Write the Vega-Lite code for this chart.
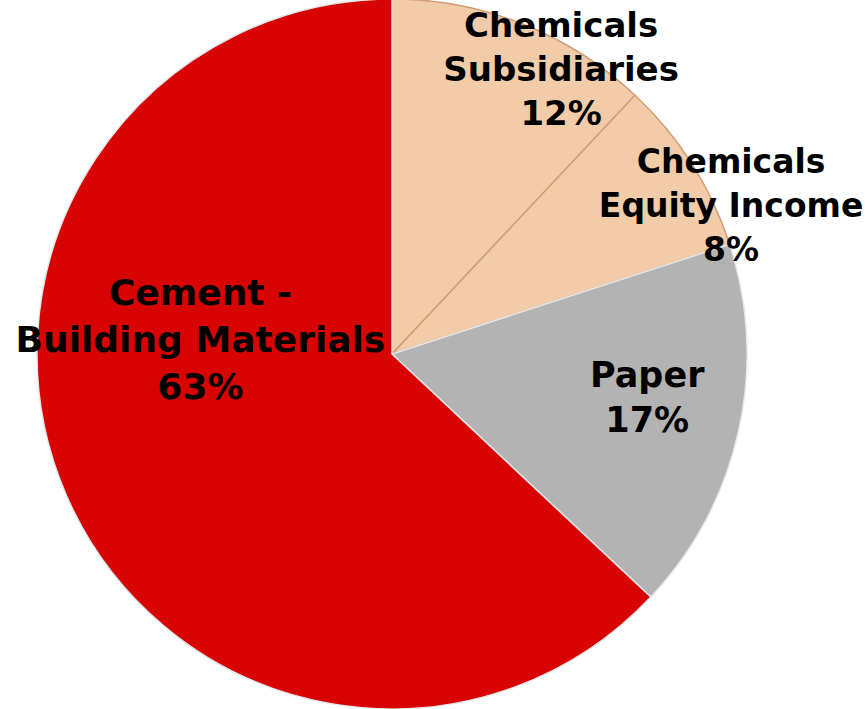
{
  "$schema": "https://vega.github.io/schema/vega-lite/v6.json",
  "autosize": "none",
  "width": 784,
  "height": 708,
  "padding": {"left": 0, "top": 0, "right": 81, "bottom": 1},
  "background": "white",
  "data": {
    "values": [
      {"k": 1, "segment": "Chemicals Subsidiaries", "share": 12, "label": "Chemicals\nSubsidiaries\n12%"},
      {"k": 2, "segment": "Chemicals Equity Income", "share": 8, "label": "Chemicals\nEquity  Income\n8%"},
      {"k": 3, "segment": "Paper", "share": 17, "label": "Paper\n17%"},
      {"k": 4, "segment": "Cement - Building Materials", "share": 63, "label": "Cement -\nBuilding Materials\n63%"}
    ]
  },
  "transform": [
    {"stack": "share", "groupby": [], "sort": [{"field": "k", "order": "ascending"}], "as": ["s0", "s1"]}
  ],
  "layer": [
    {
      "mark": {"type": "arc", "radius": 355, "strokeWidth": 1.5},
      "encoding": {
        "theta": {"field": "s0", "type": "quantitative", "scale": {"domain": [0, 100]}},
        "theta2": {"field": "s1"},
        "color": {
          "field": "segment", "type": "nominal", "legend": null,
          "scale": {
            "domain": ["Chemicals Subsidiaries", "Chemicals Equity Income", "Paper", "Cement - Building Materials"],
            "range": ["#F2CBA8", "#F2CBA8", "#B3B3B3", "#D80303"]
          }
        },
        "stroke": {
          "field": "segment", "type": "nominal", "legend": null,
          "scale": {
            "domain": ["Chemicals Subsidiaries", "Chemicals Equity Income", "Paper", "Cement - Building Materials"],
            "range": ["#D09C74", "#D09C74", "#E4E8EC", "#E4E8EC"]
          }
        }
      }
    },
    {
      "transform": [{"filter": "datum.segment === 'Chemicals Subsidiaries'"}],
      "mark": {"type": "text", "radius": 330, "thetaOffset": 0.538, "dy": -44, "font": "DejaVu Sans", "fontWeight": "bold", "fontSize": 34, "lineHeight": 44, "lineBreak": "\n", "align": "center", "baseline": "middle", "color": "black"},
      "encoding": {
        "theta": {"field": "s0", "type": "quantitative", "scale": {"domain": [0, 100]}},
        "text": {"field": "label"}
      }
    },
    {
      "transform": [{"filter": "datum.segment === 'Chemicals Equity Income'"}],
      "mark": {"type": "text", "radius": 372, "thetaOffset": 0.393, "dy": -38, "font": "DejaVu Sans", "fontWeight": "bold", "fontSize": 33, "lineHeight": 44, "lineBreak": "\n", "align": "center", "baseline": "middle", "color": "black"},
      "encoding": {
        "theta": {"field": "s0", "type": "quantitative", "scale": {"domain": [0, 100]}},
        "text": {"field": "label"}
      }
    },
    {
      "transform": [{"filter": "datum.segment === 'Paper'"}],
      "mark": {"type": "text", "radius": 259, "thetaOffset": 0.485, "dy": -22, "font": "DejaVu Sans", "fontWeight": "bold", "fontSize": 35, "lineHeight": 45, "lineBreak": "\n", "align": "center", "baseline": "middle", "color": "black"},
      "encoding": {
        "theta": {"field": "s0", "type": "quantitative", "scale": {"domain": [0, 100]}},
        "text": {"field": "label"}
      }
    },
    {
      "transform": [{"filter": "datum.segment === 'Cement - Building Materials'"}],
      "mark": {"type": "text", "radius": 192, "thetaOffset": 2.456, "dy": -47, "font": "DejaVu Sans", "fontWeight": "bold", "fontSize": 36, "lineHeight": 47, "lineBreak": "\n", "align": "center", "baseline": "middle", "color": "black"},
      "encoding": {
        "theta": {"field": "s0", "type": "quantitative", "scale": {"domain": [0, 100]}},
        "text": {"field": "label"}
      }
    }
  ]
}
